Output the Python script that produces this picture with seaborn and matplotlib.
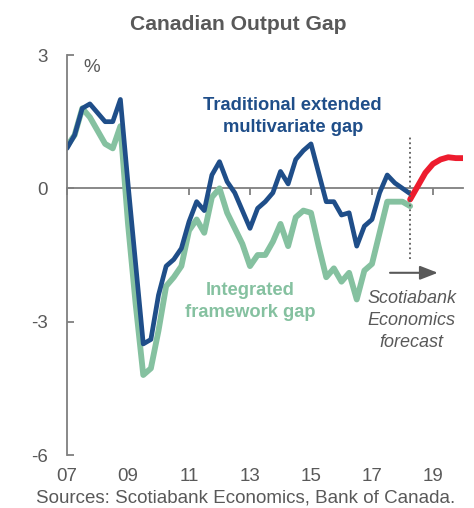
import numpy as np
import pandas as pd
import matplotlib
matplotlib.use("Agg")
import matplotlib.pyplot as plt
import seaborn as sns

# quarterly data, 2007Q1 onward (% of potential output)
quarters = pd.period_range("2007Q1", "2020Q1", freq="Q")

traditional_gap = [
    0.9, 1.2, 1.8, 1.9, 1.7, 1.5, 1.5, 2.0,
    0.1, -1.7, -3.5, -3.4, -2.4, -1.75, -1.6, -1.35,
    -0.75, -0.3, -0.5, 0.3, 0.6, 0.15, -0.1, -0.5,
    -0.9, -0.45, -0.3, -0.1, 0.38, 0.1, 0.65, 0.85,
    1.0, 0.35, -0.3, -0.3, -0.6, -0.55, -1.3, -0.85,
    -0.7, -0.1, 0.3, 0.12, 0.0, -0.12,
]
integrated_gap = [
    0.95, 1.2, 1.8, 1.6, 1.3, 1.0, 0.9, 1.4,
    -0.8, -2.6, -4.2, -4.05, -3.2, -2.2, -2.0, -1.75,
    -0.95, -0.7, -1.0, -0.2, 0.0, -0.55, -0.9, -1.25,
    -1.75, -1.5, -1.5, -1.2, -0.8, -1.3, -0.65, -0.5,
    -0.55, -1.3, -2.0, -1.8, -2.1, -1.9, -2.5, -1.85,
    -1.7, -1.0, -0.3, -0.3, -0.3, -0.4,
]
forecast_gap = [-0.25, 0.05, 0.35, 0.55, 0.65, 0.7, 0.68, 0.68]

year_ticks = [2007, 2009, 2011, 2013, 2015, 2017, 2019]
year_labels = ["07", "09", "11", "13", "15", "17", "19"]
y_ticks = [-6, -3, 0, 3]

BLUE = "#1f4e89"
GREEN = "#85c1a0"
RED = "#ed1c2e"
GREY = "#595959"
AXIS_GREY = "#7f7f7f"

# decimal-year positions for each quarter
t = np.array([q.year + (q.quarter - 1) / 4 for q in quarters])
n_hist = len(traditional_gap)
hist = pd.DataFrame({
    "date": t[:n_hist],
    "traditional": traditional_gap,
    "integrated": integrated_gap,
})
fcst = pd.DataFrame({
    "date": t[n_hist - 1:n_hist - 1 + len(forecast_gap)],
    "forecast": forecast_gap,
})

sns.set_theme(style="white")
plt.rcParams["font.family"] = ["Liberation Sans", "DejaVu Sans"]

fig = plt.figure(figsize=(4.74, 5.08), dpi=100)
ax = fig.add_axes([0.1414, 0.1043, 0.8364, 0.7874])

sns.lineplot(data=hist, x="date", y="integrated", color=GREEN, lw=4.2, ax=ax)
sns.lineplot(data=hist, x="date", y="traditional", color=BLUE, lw=3.4, ax=ax)
sns.lineplot(data=fcst, x="date", y="forecast", color=RED, lw=4.2, ax=ax,
             solid_capstyle="round")

# forecast marker and arrow
fstart = fcst["date"].iloc[0]
ax.vlines(fstart, -1.6, 1.2, colors=GREY, linestyles=":", lw=1.3)
ax.annotate("", xy=(2019.25, -1.9), xytext=(2017.5, -1.9),
            arrowprops=dict(arrowstyle="-|>,head_length=0.9,head_width=0.35",
                            color=GREY, lw=1.5))

ax.text(2014.4, 1.62, "Traditional extended\nmultivariate gap", color=BLUE,
        fontsize=13.2, fontweight="bold", ha="center", va="center",
        linespacing=1.4)
ax.text(2013.0, -2.54, "Integrated\nframework gap", color=GREEN,
        fontsize=13.2, fontweight="bold", ha="center", va="center",
        linespacing=1.4)
ax.text(2018.3, -2.97, "Scotiabank\nEconomics\nforecast", color=GREY,
        fontsize=13, fontstyle="italic", ha="center", va="center",
        linespacing=1.38)
ax.text(2007.55, 2.72, "%", color=GREY, fontsize=13.5, ha="left", va="center")

ax.set_xlim(2007, 2020)
ax.set_ylim(-6, 3)
ax.set_xlabel("")
ax.set_ylabel("")

# zero line acts as the x axis, labels sit at the bottom
for side in ["top", "right"]:
    ax.spines[side].set_visible(False)
ax.spines["bottom"].set_position(("data", 0))
ax.spines["bottom"].set_color(AXIS_GREY)
ax.spines["bottom"].set_linewidth(1.3)
ax.spines["bottom"].set_zorder(1)
ax.spines["left"].set_color(AXIS_GREY)
ax.spines["left"].set_linewidth(1.3)

ax.set_xticks(year_ticks)
ax.tick_params(axis="x", direction="out", length=5, width=1.3,
               color=AXIS_GREY, labelbottom=False, bottom=True)
ax.set_yticks(y_ticks)
ax.set_yticklabels([str(v) for v in y_ticks])
ax.tick_params(axis="y", direction="in", length=5, width=1.3,
               color=AXIS_GREY, labelsize=13.5, labelcolor=GREY, pad=14,
               left=True)

sec = ax.secondary_xaxis(0.0)
sec.set_xticks(year_ticks)
sec.set_xticklabels(year_labels)
sec.tick_params(axis="x", length=0, labelsize=13.5, labelcolor=GREY, pad=9)
for sp in sec.spines.values():
    sp.set_visible(False)

fig.text(0.503, 1 - 24 / 508, "Canadian Output Gap", color=GREY,
         fontsize=15.2, fontweight="bold", ha="center", va="center")
fig.text(0.519, 1 - 498 / 508, "Sources: Scotiabank Economics, Bank of Canada.",
         color=GREY, fontsize=13.5, ha="center", va="center")

fig.savefig("out.png", dpi=100)
